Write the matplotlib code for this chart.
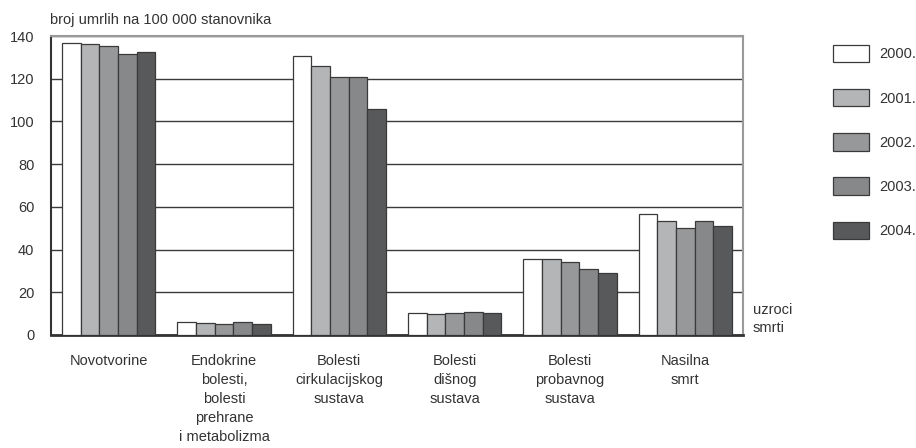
import numpy as np
import matplotlib.pyplot as plt

plt.rcParams['font.family'] = ['Liberation Sans', 'DejaVu Sans']

# uzroci smrti i godine
kategorije = ['Novotvorine', 'Endokrine\nbolesti,\nbolesti\nprehrane\ni metabolizma',
              'Bolesti\ncirkulacijskog\nsustava', 'Bolesti\ndišnog\nsustava',
              'Bolesti\nprobavnog\nsustava', 'Nasilna\nsmrt']
godine = ['2000.', '2001.', '2002.', '2003.', '2004.']

v2000 = [136.8, 5.9, 130.8, 10.4, 35.7, 56.8]
v2001 = [136.2, 5.6, 125.8, 10.0, 35.7, 53.5]
v2002 = [135.2, 5.0, 121.0, 10.4, 34.0, 50.0]
v2003 = [131.4, 6.2, 120.6, 10.8, 30.8, 53.4]
v2004 = [132.3, 5.3, 105.8, 10.1, 28.9, 50.9]
serije = [v2000, v2001, v2002, v2003, v2004]

boje = ['#ffffff', '#b4b5b7', '#97989a', '#87888a', '#58595b']

fig = plt.figure(figsize=(9.16, 4.48), dpi=100)
ax = fig.add_axes([51/916, 1-335/448, (743-51)/916, (335-36)/448])

x = np.arange(len(kategorije))
w = 0.162
for i, (vals, c) in enumerate(zip(serije, boje)):
    ax.bar(x + (i - 2) * w, vals, w, color=c, edgecolor='#3a3a3a', linewidth=0.9,
           label=godine[i], zorder=3)

ax.set_xlim(-0.5, len(kategorije) - 0.5)
ax.set_ylim(0, 140)
ax.set_yticks(np.arange(0, 141, 20))
ax.yaxis.grid(True, color='#3a3a3a', linewidth=1, zorder=0)
ax.set_xticks(x)
ax.set_xticklabels(kategorije, fontsize=10.5, color='#333333', linespacing=1.45)
ax.tick_params(axis='x', length=0, pad=14)
ax.tick_params(axis='y', length=0, pad=12, labelsize=10.5, labelcolor='#333333')

ax.spines['left'].set_color('#333333')
ax.spines['left'].set_linewidth(1.5)
ax.spines['bottom'].set_color('#333333')
ax.spines['bottom'].set_linewidth(2)
ax.spines['top'].set_color('#999999')
ax.spines['top'].set_linewidth(1.5)
ax.spines['right'].set_color('#999999')
ax.spines['right'].set_linewidth(1.5)

fig.text(50/916, 1-20/448, 'broj umrlih na 100 000 stanovnika', fontsize=10.5,
         color='#333333', va='center', ha='left')
fig.text(753/916, 1-319/448, 'uzroci\nsmrti', fontsize=10.5, color='#333333',
         va='center', ha='left', linespacing=1.4)

fig.legend(loc='upper left', bbox_to_anchor=(833/916, 1-45/448), frameon=False,
           borderpad=0, borderaxespad=0, fontsize=10.5, handlelength=2.5,
           handleheight=1.45, labelspacing=1.84, handletextpad=0.7,
           labelcolor='#333333')

fig.savefig('out.png', dpi=100)
